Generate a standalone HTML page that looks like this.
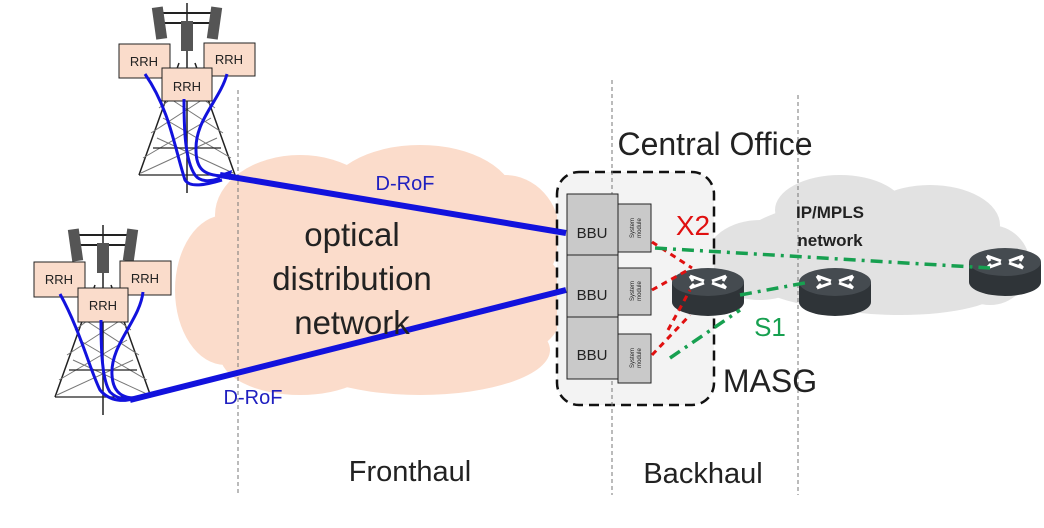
<!DOCTYPE html>
<html><head><meta charset="utf-8"><style>
html,body{margin:0;padding:0;background:#fff;width:1044px;height:528px;overflow:hidden}
svg{display:block}
text{font-family:"Liberation Sans",sans-serif}
</style></head><body>
<svg width="1044" height="528" viewBox="0 0 1044 528" xmlns="http://www.w3.org/2000/svg">
<defs>
<g id="tower">
 <path d="M-8,0 L-48,112 M8,0 L48,112" stroke="#222" stroke-width="1.5" fill="none"/>
 <path d="M-12,15 L28,45 M12,15 L-28,45 M-18,35 L36,70 M18,35 L-36,70 M-24,55 L44,95 M24,55 L-44,95 M-30,75 L46,110 M30,75 L-46,110" stroke="#777" stroke-width="1" fill="none"/>
 <path d="M-34,85 L34,85 M-48,112 L48,112" stroke="#222" stroke-width="1.3"/>
 <line x1="0" y1="-60" x2="0" y2="130" stroke="#222" stroke-width="1.5"/>
 <line x1="-28" y1="-50" x2="28" y2="-50" stroke="#222" stroke-width="2"/>
 <line x1="-24" y1="-40" x2="24" y2="-40" stroke="#222" stroke-width="2"/>
 <rect x="-33" y="-56" width="11" height="32" fill="#555" transform="rotate(-8 -27 -40)"/>
 <rect x="22" y="-56" width="11" height="32" fill="#555" transform="rotate(8 27 -40)"/>
 <rect x="-6" y="-42" width="12" height="30" fill="#555"/>
</g>
<g id="router">
 <path d="M-36,0 L-36,20 A36,14 0 0 0 36,20 L36,0 Z" fill="#2f3438"/>
 <ellipse cx="0" cy="0" rx="36" ry="14" fill="#454b50"/>
 <path d="M-18,-6 L-4,-1 M-18,-6 l3,5 M18,-6 L4,-1 M18,-6 l-3,5 M-18,6 L-4,1 M18,6 L4,1 M-18,6 l4,-4 M18,6 l-4,-4" stroke="#fff" stroke-width="3" fill="none"/>
</g>
</defs>

<!-- optical cloud -->
<g fill="#fbdccb">
 <ellipse cx="370" cy="275" rx="170" ry="100"/>
 <ellipse cx="300" cy="215" rx="85" ry="60"/>
 <ellipse cx="420" cy="200" rx="95" ry="55"/>
 <ellipse cx="505" cy="235" rx="55" ry="60"/>
 <ellipse cx="225" cy="290" rx="50" ry="75"/>
 <ellipse cx="420" cy="350" rx="130" ry="45"/>
 <ellipse cx="300" cy="355" rx="80" ry="40"/>
 <ellipse cx="525" cy="300" rx="40" ry="50"/>
</g>
<!-- IP/MPLS cloud -->
<g fill="#e2e2e2">
 <ellipse cx="860" cy="255" rx="130" ry="55"/>
 <ellipse cx="840" cy="210" rx="65" ry="35"/>
 <ellipse cx="930" cy="225" rx="70" ry="40"/>
 <ellipse cx="760" cy="260" rx="55" ry="40"/>
 <ellipse cx="990" cy="265" rx="40" ry="40"/>
 <ellipse cx="900" cy="290" rx="100" ry="25"/>
</g>

<rect x="557" y="172" width="157" height="233" rx="22" fill="#f3f3f3" stroke="#111" stroke-width="2.5" stroke-dasharray="10,6"/>

<g stroke="#777" stroke-width="1" stroke-dasharray="4,3">
 <line x1="238" y1="90" x2="238" y2="495"/>
 <line x1="612" y1="80" x2="612" y2="495"/>
 <line x1="798" y1="95" x2="798" y2="495"/>
</g>

<use href="#tower" x="187" y="63"/>
<use href="#tower" x="103" y="285"/>

<g fill="#fadccb" stroke="#222" stroke-width="1">
 <rect x="119" y="44" width="51" height="34"/>
 <rect x="204" y="43" width="51" height="33"/>
 <rect x="162" y="68" width="50" height="33"/>
 <rect x="34" y="262" width="51" height="35"/>
 <rect x="120" y="261" width="51" height="34"/>
 <rect x="78" y="288" width="50" height="34"/>
</g>
<g font-size="13" fill="#222" text-anchor="middle">
 <text x="144" y="66">RRH</text><text x="229" y="64">RRH</text><text x="187" y="91">RRH</text>
 <text x="59" y="284">RRH</text><text x="145" y="283">RRH</text><text x="103" y="310">RRH</text>
</g>

<g stroke="#1212dd" fill="none" stroke-width="3">
 <path d="M145,74 C170,110 175,150 185,180 C190,188 205,185 222,180"/>
 <path d="M184,99 C184,130 185,160 195,175 C200,182 210,182 220,178"/>
 <path d="M227,74 C220,100 195,120 196,150 C196,170 205,175 222,176"/>
 <path d="M60,294 C80,330 90,370 100,390 C110,402 125,402 135,398"/>
 <path d="M101,320 C101,350 102,380 110,392 C118,400 128,400 135,398"/>
 <path d="M143,292 C140,320 110,345 112,375 C113,395 125,398 135,398"/>
</g>
<g stroke="#1212dd" stroke-width="6" fill="none">
 <line x1="220" y1="175" x2="566" y2="233"/>
 <line x1="130" y1="400" x2="566" y2="290"/>
</g>
<path d="M218,175 L232,170 L230,180 Z" fill="#1212dd"/>

<g fill="#c9c9c9" stroke="#222" stroke-width="1">
 <rect x="567" y="194" width="51" height="61"/>
 <rect x="567" y="255" width="51" height="62"/>
 <rect x="567" y="317" width="51" height="62"/>
 <rect x="618" y="204" width="33" height="48"/>
 <rect x="618" y="268" width="33" height="47"/>
 <rect x="618" y="334" width="33" height="49"/>
</g>
<g font-size="15" fill="#222" text-anchor="middle">
 <text x="592" y="238">BBU</text><text x="592" y="300">BBU</text><text x="592" y="360">BBU</text>
</g>
<g font-size="6" fill="#222" text-anchor="middle">
 <text transform="translate(634,228) rotate(-90)">System</text>
 <text transform="translate(641,228) rotate(-90)">module</text>
 <text transform="translate(634,291) rotate(-90)">System</text>
 <text transform="translate(641,291) rotate(-90)">module</text>
 <text transform="translate(634,358) rotate(-90)">System</text>
 <text transform="translate(641,358) rotate(-90)">module</text>
</g>

<use href="#router" x="708" y="282"/>
<use href="#router" x="835" y="282"/>
<use href="#router" x="1005" y="262"/>

<g stroke="#e01010" stroke-width="3" stroke-dasharray="6,5" fill="none">
 <path d="M652,242 L692,268"/>
 <path d="M652,290 L688,270"/>
 <path d="M652,355 L690,315"/>
 <path d="M668,330 L690,290"/>
</g>
<g stroke="#17a050" stroke-width="3.5" stroke-dasharray="12,6,3,6" fill="none">
 <path d="M655,248 L990,268"/>
 <path d="M740,295 L810,282"/>
 <path d="M670,358 L740,310"/>
</g>

<text x="715" y="155" font-size="32" fill="#222" text-anchor="middle">Central Office</text>
<text x="352" y="246" font-size="33" fill="#222" text-anchor="middle">optical</text>
<text x="352" y="290" font-size="33" fill="#222" text-anchor="middle">distribution</text>
<text x="352" y="334" font-size="33" fill="#222" text-anchor="middle">network</text>
<text x="405" y="190" font-size="20" fill="#2020c0" text-anchor="middle">D-RoF</text>
<text x="253" y="404" font-size="20" fill="#2020c0" text-anchor="middle">D-RoF</text>
<text x="830" y="218" font-size="17" font-weight="bold" fill="#222" text-anchor="middle">IP/MPLS</text>
<text x="830" y="246" font-size="17" font-weight="bold" fill="#222" text-anchor="middle">network</text>
<text x="693" y="235" font-size="28" fill="#e01010" text-anchor="middle">X2</text>
<text x="770" y="336" font-size="26" fill="#17a050" text-anchor="middle">S1</text>
<text x="770" y="392" font-size="32" fill="#222" text-anchor="middle">MASG</text>
<text x="410" y="481" font-size="29" fill="#222" text-anchor="middle">Fronthaul</text>
<text x="703" y="483" font-size="29" fill="#222" text-anchor="middle">Backhaul</text>
</svg>
</body></html>
